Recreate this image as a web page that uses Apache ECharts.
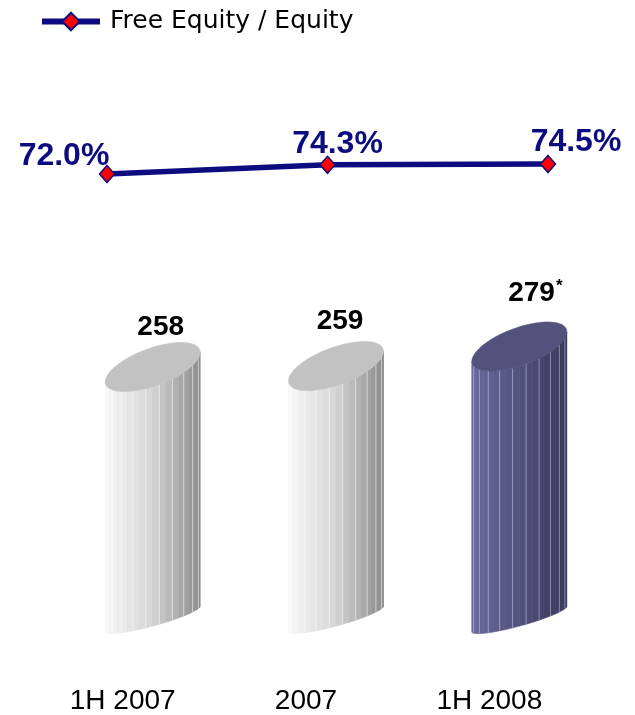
<!DOCTYPE html>
<html>
<head>
<meta charset="utf-8">
<script src="https://cdn.jsdelivr.net/npm/echarts@6/dist/echarts.min.js"></script>
<style>
  html, body { margin: 0; padding: 0; background: #ffffff; }
  #chart { width: 635px; height: 715px; }
</style>
</head>
<body>
<div id="chart"></div>
<script>
// Period labels on the horizontal axis
const categories = ['1H 2007', '2007', '1H 2008'];
// Equity per period (column values) and footnote markers for them
const equityValues = [258, 259, 279];
const equityNotes = ['', '', '*'];
// Free equity as a share of equity, in percent
const freeShareValues = [72.0, 74.3, 74.5];
const lineName = 'Free Equity / Equity';

// Styling kept apart from the data
const FONT = "'Liberation Sans', Arial, Helvetica, sans-serif";
const NAVY = '#0c0c80';
const barPalette = [
  { left: [248, 248, 248], mid: [212, 212, 212], right: [138, 138, 138], cap: '#c2c2c2', seam: 'rgba(255,255,255,0.55)' },
  { left: [248, 248, 248], mid: [212, 212, 212], right: [138, 138, 138], cap: '#c2c2c2', seam: 'rgba(255,255,255,0.55)' },
  { left: [104, 104, 156], mid: [82, 82, 126], right: [56, 56, 88], cap: '#52527c', seam: 'rgba(200,200,235,0.55)' }
];
// where each column's value label sits, relative to the centre of its top cap
const barLabelShift = [[8, -40], [4, -45], [16, -53]];
// where each percentage label sits, relative to its marker
const lineLabelShift = [[-43, -18], [10, -21], [28, -22]];

function mix(a, b, f) {
  return [0, 1, 2].map(k => Math.round(a[k] + (b[k] - a[k]) * f));
}
function shade(p, f) {
  const c = f < 0.5 ? mix(p.left, p.mid, f / 0.5) : mix(p.mid, p.right, (f - 0.5) / 0.5);
  return 'rgb(' + c.join(',') + ')';
}

// Draws one faceted cylinder with a tilted elliptical cap
function renderCylinder(params, api) {
  const idx = params.dataIndex;
  const pal = barPalette[idx];
  const topPt = api.coord([api.value(0), api.value(1)]);
  const basePt = api.coord([api.value(0), 0]);
  const band = api.size([1, 0])[0];
  const W = band * 0.259;          // half width of the column
  const S = W * 0.31, h = W * 0.415; // cap tilt and depth
  const Sb = W * 0.27, hb = W * 0.15; // base tilt and depth
  const cx = topPt[0], cyT = topPt[1], cyB = basePt[1];
  const capP = t => [cx + W * Math.cos(t), cyT - S * Math.cos(t) + h * Math.sin(t)];
  const baseP = t => [cx + W * Math.cos(t), cyB - Sb * Math.cos(t) + hb * Math.sin(t)];

  const children = [];
  const N = 22;
  // facets from the left silhouette (t = PI) to the right one (t = 0)
  for (let i = 0; i < N; i++) {
    const ta = Math.PI - (i / N) * Math.PI;
    const tb = Math.PI - ((i + 1) / N) * Math.PI;
    const fm = (Math.cos((ta + tb) / 2) + 1) / 2;
    const col = shade(pal, fm);
    children.push({
      type: 'polygon',
      shape: { points: [capP(ta), capP(tb), baseP(tb), baseP(ta)] },
      style: { fill: col, stroke: col, lineWidth: 0.6 }
    });
  }
  // light seams between facets
  for (let i = 1; i < N; i++) {
    if (i % 2) continue;
    const t = Math.PI - (i / N) * Math.PI;
    const a = capP(t), b = baseP(t);
    children.push({
      type: 'line',
      shape: { x1: a[0], y1: a[1], x2: b[0], y2: b[1] },
      style: { stroke: pal.seam, lineWidth: 1 }
    });
  }
  // cap
  const cap = [];
  for (let i = 0; i < 72; i++) cap.push(capP((i / 72) * Math.PI * 2));
  children.push({
    type: 'polygon',
    shape: { points: cap },
    style: { fill: pal.cap, stroke: pal.cap, lineWidth: 0.5 }
  });
  // value label
  const sh = barLabelShift[idx];
  children.push({
    type: 'text',
    x: cx + sh[0],
    y: cyT + sh[1],
    style: {
      text: '{v|' + api.value(1) + '}' + (equityNotes[idx] ? '{s|' + equityNotes[idx] + '}' : ''),
      align: 'center',
      verticalAlign: 'middle',
      rich: {
        v: { fontFamily: FONT, fontSize: 28, fontWeight: 'bold', fill: '#000000', lineHeight: 32 },
        s: { fontFamily: FONT, fontSize: 17, fontWeight: 'bold', fill: '#000000', lineHeight: 17, verticalAlign: 'top', padding: [0, 0, 0, 1] }
      }
    }
  });
  return { type: 'group', children };
}

const chart = echarts.init(document.getElementById('chart'), null, { renderer: 'canvas' });

chart.setOption({
  backgroundColor: '#ffffff',
  animation: false,
  legend: {
    data: [lineName],
    left: 39,
    top: 9,
    padding: 0,
    itemWidth: 58,
    itemHeight: 22,
    lineStyle: { width: 6, color: NAVY },
    textStyle: { fontFamily: "'DejaVu Sans', sans-serif", fontSize: 25, color: '#000000', padding: [0, 0, 0, 5] }
  },
  grid: [
    { left: 61, right: 24, top: 326, bottom: 95 },   // columns
    { left: 107, right: 87, top: 142, height: 80 }   // ratio line
  ],
  xAxis: [
    {
      type: 'category', gridIndex: 0, data: categories,
      axisLine: { show: false }, axisTick: { show: false }, splitLine: { show: false },
      axisLabel: {
        fontFamily: FONT, fontSize: 28, color: '#000000', margin: 68,
        lineHeight: 28, padding: [0, 60, 0, 0]
      }
    },
    {
      type: 'category', gridIndex: 1, data: categories, boundaryGap: false, show: false
    }
  ],
  yAxis: [
    { type: 'value', gridIndex: 0, min: 0, max: 300, show: false },
    { type: 'value', gridIndex: 1, min: 60, max: 80, show: false }
  ],
  series: [
    {
      type: 'custom',
      name: 'Equity',
      xAxisIndex: 0, yAxisIndex: 0,
      renderItem: renderCylinder,
      encode: { x: 0, y: 1 },
      data: equityValues.map((v, i) => [i, v]),
      z: 2
    },
    {
      type: 'line',
      name: lineName,
      xAxisIndex: 1, yAxisIndex: 1,
      data: freeShareValues.map((v, i) => ({
        value: v,
        label: { offset: lineLabelShift[i] }
      })),
      lineStyle: { color: NAVY, width: 5.5 },
      symbol: 'diamond',
      symbolSize: [15, 17],
      itemStyle: { color: '#ff0000', borderColor: NAVY, borderWidth: 1.5 },
      label: {
        show: true,
        position: 'inside',
        formatter: p => p.value.toFixed(1) + '%',
        fontFamily: FONT, fontSize: 32, fontWeight: 'bold', color: NAVY
      },
      z: 3
    }
  ]
});
</script>
</body>
</html>
